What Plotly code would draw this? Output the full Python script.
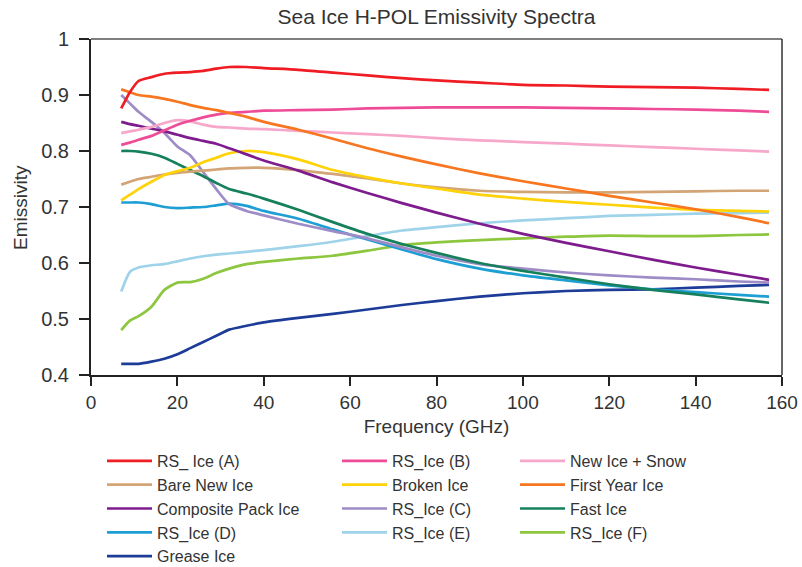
import plotly.graph_objects as go

freq = [7, 9, 11, 14, 17, 20, 23, 26, 29, 32, 36, 40, 48, 56, 64, 72, 80, 90, 100, 110, 120, 130, 140, 150, 157]

rs_ice_a = [0.876, 0.905, 0.925, 0.932, 0.938, 0.940, 0.941, 0.943, 0.947, 0.950, 0.950, 0.948, 0.945, 0.940, 0.935, 0.930, 0.926, 0.922, 0.918, 0.917, 0.915, 0.914, 0.913, 0.911, 0.909]
rs_ice_b = [0.811, 0.815, 0.820, 0.827, 0.837, 0.847, 0.854, 0.860, 0.865, 0.868, 0.870, 0.872, 0.873, 0.874, 0.876, 0.877, 0.878, 0.878, 0.878, 0.877, 0.876, 0.875, 0.874, 0.872, 0.870]
new_ice_snow = [0.832, 0.835, 0.838, 0.843, 0.850, 0.855, 0.853, 0.847, 0.843, 0.842, 0.840, 0.839, 0.836, 0.833, 0.830, 0.827, 0.823, 0.819, 0.816, 0.813, 0.810, 0.807, 0.804, 0.801, 0.799]
bare_new_ice = [0.740, 0.745, 0.750, 0.754, 0.758, 0.761, 0.763, 0.765, 0.767, 0.769, 0.770, 0.770, 0.766, 0.759, 0.751, 0.742, 0.735, 0.729, 0.727, 0.726, 0.726, 0.727, 0.728, 0.729, 0.729]
broken_ice = [0.712, 0.722, 0.732, 0.745, 0.757, 0.764, 0.770, 0.780, 0.788, 0.796, 0.800, 0.798, 0.785, 0.766, 0.753, 0.742, 0.733, 0.722, 0.715, 0.709, 0.704, 0.699, 0.695, 0.693, 0.692]
first_year_ice = [0.910, 0.905, 0.900, 0.897, 0.893, 0.888, 0.882, 0.877, 0.873, 0.868, 0.861, 0.852, 0.838, 0.822, 0.805, 0.790, 0.776, 0.760, 0.746, 0.733, 0.720, 0.708, 0.696, 0.682, 0.671]
composite_pack_ice = [0.852, 0.848, 0.845, 0.840, 0.835, 0.829, 0.823, 0.818, 0.813, 0.805, 0.794, 0.783, 0.765, 0.744, 0.725, 0.707, 0.690, 0.670, 0.652, 0.636, 0.621, 0.606, 0.592, 0.579, 0.570]
rs_ice_c = [0.900, 0.885, 0.870, 0.852, 0.832, 0.808, 0.792, 0.762, 0.732, 0.705, 0.693, 0.685, 0.670, 0.657, 0.644, 0.628, 0.613, 0.598, 0.590, 0.583, 0.578, 0.574, 0.571, 0.567, 0.565]
fast_ice = [0.800, 0.800, 0.799, 0.795, 0.788, 0.777, 0.766, 0.755, 0.743, 0.732, 0.724, 0.715, 0.695, 0.673, 0.652, 0.634, 0.618, 0.600, 0.586, 0.574, 0.562, 0.552, 0.544, 0.535, 0.529]
rs_ice_d = [0.708, 0.708, 0.708, 0.705, 0.700, 0.698, 0.699, 0.700, 0.703, 0.706, 0.702, 0.693, 0.679, 0.660, 0.642, 0.624, 0.607, 0.590, 0.578, 0.569, 0.560, 0.553, 0.548, 0.543, 0.540]
rs_ice_e = [0.549, 0.584, 0.592, 0.596, 0.598, 0.603, 0.608, 0.612, 0.615, 0.617, 0.620, 0.623, 0.630, 0.638, 0.648, 0.658, 0.664, 0.671, 0.676, 0.680, 0.684, 0.686, 0.688, 0.689, 0.690]
rs_ice_f = [0.480, 0.497, 0.505, 0.522, 0.552, 0.565, 0.566, 0.572, 0.582, 0.590, 0.598, 0.602, 0.608, 0.613, 0.622, 0.632, 0.637, 0.641, 0.644, 0.647, 0.649, 0.648, 0.648, 0.650, 0.651]
grease_ice = [0.420, 0.420, 0.420, 0.424, 0.429, 0.437, 0.448, 0.459, 0.470, 0.481, 0.488, 0.494, 0.502, 0.509, 0.517, 0.525, 0.532, 0.540, 0.546, 0.550, 0.552, 0.553, 0.556, 0.559, 0.561]

x_ticks = [0, 20, 40, 60, 80, 100, 120, 140, 160]
y_ticks = [0.4, 0.5, 0.6, 0.7, 0.8, 0.9, 1.0]
y_tick_labels = ["0.4", "0.5", "0.6", "0.7", "0.8", "0.9", "1"]

# (name, values, color, legend column)
series = [
    ("RS_ Ice (A)", rs_ice_a, "#f01c24", "legend"),
    ("Bare New Ice", bare_new_ice, "#d2a476", "legend"),
    ("Composite Pack Ice", composite_pack_ice, "#7e1c8e", "legend"),
    ("RS_Ice (D)", rs_ice_d, "#1e9fd4", "legend"),
    ("Grease Ice", grease_ice, "#1c3c98", "legend"),
    ("RS_Ice (B)", rs_ice_b, "#ef4c97", "legend2"),
    ("Broken Ice", broken_ice, "#ffd20a", "legend2"),
    ("RS_Ice (C)", rs_ice_c, "#9d8cc6", "legend2"),
    ("RS_Ice (E)", rs_ice_e, "#9fd3ea", "legend2"),
    ("New Ice + Snow", new_ice_snow, "#f7a7c9", "legend3"),
    ("First Year Ice", first_year_ice, "#f7761f", "legend3"),
    ("Fast Ice", fast_ice, "#16805c", "legend3"),
    ("RS_Ice (F)", rs_ice_f, "#8dc63f", "legend3"),
]

draw_order = ["Grease Ice", "RS_Ice (F)", "RS_Ice (E)", "RS_Ice (D)", "RS_Ice (C)", "Fast Ice",
              "Bare New Ice", "Broken Ice", "Composite Pack Ice", "New Ice + Snow", "RS_Ice (B)",
              "First Year Ice", "RS_ Ice (A)"]
legend_rank = {s[0]: i for i, s in enumerate(series)}

fig = go.Figure()
for name in draw_order:
    nm, vals, col, lg = next(s for s in series if s[0] == name)
    fig.add_trace(go.Scatter(
        x=freq, y=vals, name=nm, mode="lines",
        line=dict(color=col, width=2.7, shape="spline", smoothing=0.6),
        legend=lg, legendrank=legend_rank[nm], legendgroup=nm,
    ))

font_family = "Liberation Sans, Arial, sans-serif"
txt = "#333333"
legend_common = dict(
    orientation="v", xref="container", yref="container",
    xanchor="left", yanchor="top", bgcolor="rgba(0,0,0,0)",
    font=dict(family=font_family, size=16, color=txt),
    tracegroupgap=0, itemwidth=45, traceorder="normal",
)

fig.update_layout(
    width=802, height=567,
    margin=dict(l=91, r=20, t=39, b=192, autoexpand=False),
    paper_bgcolor="white", plot_bgcolor="white",
    showlegend=True,
    title=dict(text="Sea Ice H-POL Emissivity Spectra", x=0.5, xref="paper", xanchor="center",
               y=1 - 17 / 567, yanchor="middle",
               font=dict(family=font_family, size=21, color=txt)),
    font=dict(family=font_family, color=txt),
    legend=dict(legend_common, x=102 / 802, y=1 - 444 / 567),
    legend2=dict(legend_common, x=337 / 802, y=1 - 444 / 567),
    legend3=dict(legend_common, x=515 / 802, y=1 - 444 / 567),
    xaxis=dict(
        range=[0, 160], tickvals=x_ticks, showgrid=False, zeroline=False,
        showline=True, linecolor="#222222", linewidth=2,
        ticks="outside", ticklen=9, tickwidth=2, tickcolor="#222222",
        tickfont=dict(family=font_family, size=19, color=txt),
        title=dict(text="Frequency (GHz)", font=dict(family=font_family, size=19, color=txt), standoff=8),
    ),
    yaxis=dict(
        range=[0.4, 1.0], tickvals=y_ticks, ticktext=y_tick_labels, showgrid=False, zeroline=False,
        showline=True, linecolor="#222222", linewidth=2,
        ticks="outside", ticklen=10, tickwidth=2, tickcolor="#222222",
        ticklabelstandoff=6,
        tickfont=dict(family=font_family, size=20, color=txt),
    ),
    annotations=[
        dict(text="Emissivity", xref="paper", yref="paper", x=-91 / 691 + 20 / 691, y=0.5,
             xanchor="center", yanchor="middle", textangle=-90, showarrow=False,
             font=dict(family=font_family, size=19, color=txt)),
    ],
    shapes=[
        dict(type="line", xref="x domain", yref="y domain", x0=0, x1=1, y0=1, y1=1,
             line=dict(color="#555555", width=1.5)),
        dict(type="line", xref="x domain", yref="y domain", x0=1, x1=1, y0=0, y1=1,
             line=dict(color="#333333", width=1.5)),
    ],
)

fig.write_html("out.html")
